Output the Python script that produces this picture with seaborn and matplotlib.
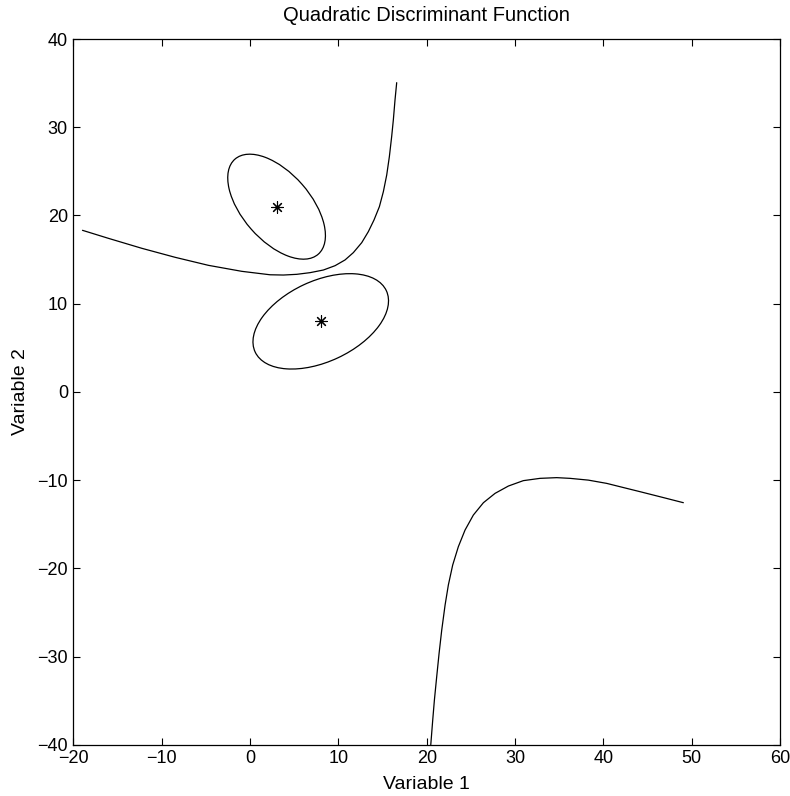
import matplotlib
matplotlib.use("Agg")
import matplotlib.pyplot as plt
from matplotlib.patches import Ellipse
import seaborn as sns
import pandas as pd

# ---- data ----
upper_x = [-18.98, -16.04, -12.26, -8.49, -4.72, -0.94, 2.26, 3.77, 5.28, 6.79,
           8.30, 9.62, 10.75, 11.69, 12.64, 13.39, 14.03, 14.64, 15.09, 15.47,
           15.77, 16.03, 16.22, 16.41, 16.60]
upper_y = [18.32, 17.41, 16.28, 15.26, 14.35, 13.67, 13.28, 13.25, 13.33, 13.52,
           13.82, 14.31, 14.96, 15.79, 16.92, 18.17, 19.49, 21.00, 22.70, 24.59,
           26.67, 28.94, 30.83, 33.10, 35.06]

lower_x = [20.46, 20.68, 20.87, 21.13, 21.40, 21.70, 22.08, 22.45, 22.94, 23.58,
           24.34, 25.28, 26.42, 27.74, 29.25, 30.94, 32.83, 34.72, 36.23, 38.30,
           40.38, 42.30, 44.15, 46.60, 49.06]
lower_y = [-40.0, -37.20, -34.93, -32.29, -29.64, -27.00, -24.16, -21.89, -19.63, -17.55,
           -15.66, -13.96, -12.56, -11.50, -10.67, -10.06, -9.80, -9.72, -9.80, -10.00,
           -10.37, -10.85, -11.31, -11.93, -12.56]

mean_x = [3, 8]
mean_y = [21, 8]

ell_width = [14.32, 16.40]
ell_height = [7.68, 9.14]
ell_angle = [-48.8, 25.1]

x_ticks = [-20, -10, 0, 10, 20, 30, 40, 50, 60]
y_ticks = [-40, -30, -20, -10, 0, 10, 20, 30, 40]

sns.set_style("ticks", {"xtick.direction": "in", "ytick.direction": "in"})
plt.rcParams["font.family"] = ["Liberation Sans", "DejaVu Sans"]
plt.rcParams["text.color"] = "black"
plt.rcParams["axes.labelcolor"] = "black"

fig = plt.figure(figsize=(7.9, 7.96), dpi=100)
ax = fig.add_axes([0.093, 0.0644, 0.8943, 0.8865])

df_up = pd.DataFrame({"x": upper_x, "y": upper_y})
df_lo = pd.DataFrame({"x": lower_x, "y": lower_y})
sns.lineplot(data=df_up, x="x", y="y", sort=False, color="black", lw=0.9, ax=ax)
sns.lineplot(data=df_lo, x="x", y="y", sort=False, color="black", lw=0.9, ax=ax)

for cx, cy, w, h, a in zip(mean_x, mean_y, ell_width, ell_height, ell_angle):
    ax.add_patch(Ellipse((cx, cy), w, h, angle=a, fill=False, edgecolor="black", lw=0.9))

sns.scatterplot(x=mean_x, y=mean_y, marker=(8, 2, 0), s=70, color="black",
                linewidth=0.8, edgecolor="black", ax=ax)

ax.set_xlim(-20, 60)
ax.set_ylim(-40, 40)
ax.set_xticks(x_ticks)
ax.set_yticks(y_ticks)
ax.tick_params(direction="in", length=5, width=0.8, colors="black", labelsize=13,
               top=True, right=True, pad=4)
for s in ax.spines.values():
    s.set_visible(True)
    s.set_linewidth(0.9)
    s.set_color("black")

ax.set_title("Quadratic Discriminant Function", fontsize=14.5, pad=13, color="black")
ax.set_xlabel("Variable 1", fontsize=14, labelpad=6)
ax.set_ylabel("Variable 2", fontsize=14, labelpad=6)

fig.savefig("out.png", dpi=100, facecolor="white")
